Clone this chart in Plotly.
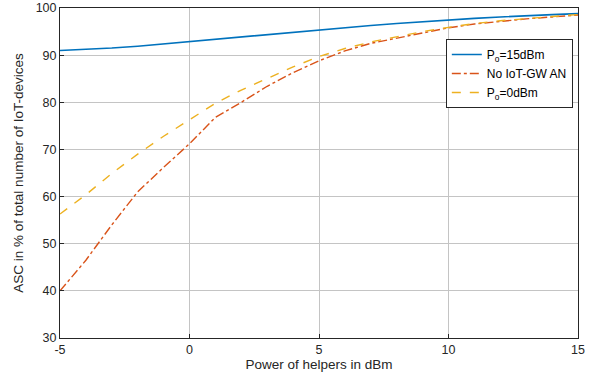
import plotly.graph_objects as go

x_dbm = list(range(-5, 16))
asc_p15 = [91.0, 91.2, 91.5, 91.9, 92.4, 92.9, 93.4, 93.9, 94.4, 94.9, 95.4,
           95.9, 96.3, 96.7, 97.1, 97.4, 97.8, 98.1, 98.4, 98.6, 98.8]
asc_no_an = [40.0, 46.5, 54.0, 61.0, 66.2, 71.2, 76.8, 80.0, 83.4, 86.3, 88.8,
             90.9, 92.5, 93.6, 94.8, 95.8, 96.6, 97.2, 97.7, 98.1, 98.5]
asc_p0 = [56.3, 60.4, 64.9, 69.0, 72.8, 76.3, 79.8, 82.6, 85.1, 87.5, 89.7,
          91.4, 92.8, 93.9, 95.0, 95.9, 96.7, 97.3, 97.8, 98.2, 98.6]
x_ticks = [-5, 0, 5, 10, 15]
x_tick_labels = ["-5", "0", "5", "10", "15"]
y_ticks = [30, 40, 50, 60, 70, 80, 90, 100]

fig = go.Figure()
fig.add_trace(go.Scatter(x=x_dbm, y=asc_p15, mode="lines", name="P<sub>o</sub>=15dBm",
                         line=dict(color="#0072BD", width=1.6)))
fig.add_trace(go.Scatter(x=x_dbm, y=asc_no_an, mode="lines", name="No IoT-GW AN",
                         line=dict(color="#D95319", width=1.4, dash="dashdot")))
fig.add_trace(go.Scatter(x=x_dbm, y=asc_p0, mode="lines", name="P<sub>o</sub>=0dBm",
                         line=dict(color="#EDB120", width=1.4, dash="dash")))

axis_common = dict(showline=True, linecolor="#262626", linewidth=1, mirror=True,
                   showgrid=True, gridcolor="#c4c4c4", gridwidth=1, zeroline=False,
                   ticks="inside", ticklen=4, tickcolor="#262626", automargin=False,
                   tickfont=dict(size=12.5, color="#262626"))

fig.update_layout(
    width=604, height=383,
    margin=dict(l=60, r=26, t=8, b=45),
    paper_bgcolor="white", plot_bgcolor="white",
    font=dict(family="Liberation Sans, Arial, sans-serif", color="#262626"),
    xaxis=dict(range=[-5, 15], tickvals=x_ticks, ticktext=x_tick_labels,
               title=dict(text="Power of helpers in dBm", font=dict(size=13.5), standoff=2),
               **axis_common),
    yaxis=dict(range=[30, 100], tickvals=y_ticks,
               title=dict(text="ASC in % of total number of IoT-devices", font=dict(size=13.5), standoff=8),
               **axis_common),
    legend=dict(x=0.99, y=0.906, xanchor="right", yanchor="top",
                bgcolor="white", bordercolor="#262626", borderwidth=1,
                font=dict(size=12, color="#000000"), tracegroupgap=0,
                itemwidth=30),
    showlegend=True,
)

fig.write_html("out.html", config={"displayModeBar": False},
               post_script="document.body.style.margin='0';document.body.style.padding='0';")
